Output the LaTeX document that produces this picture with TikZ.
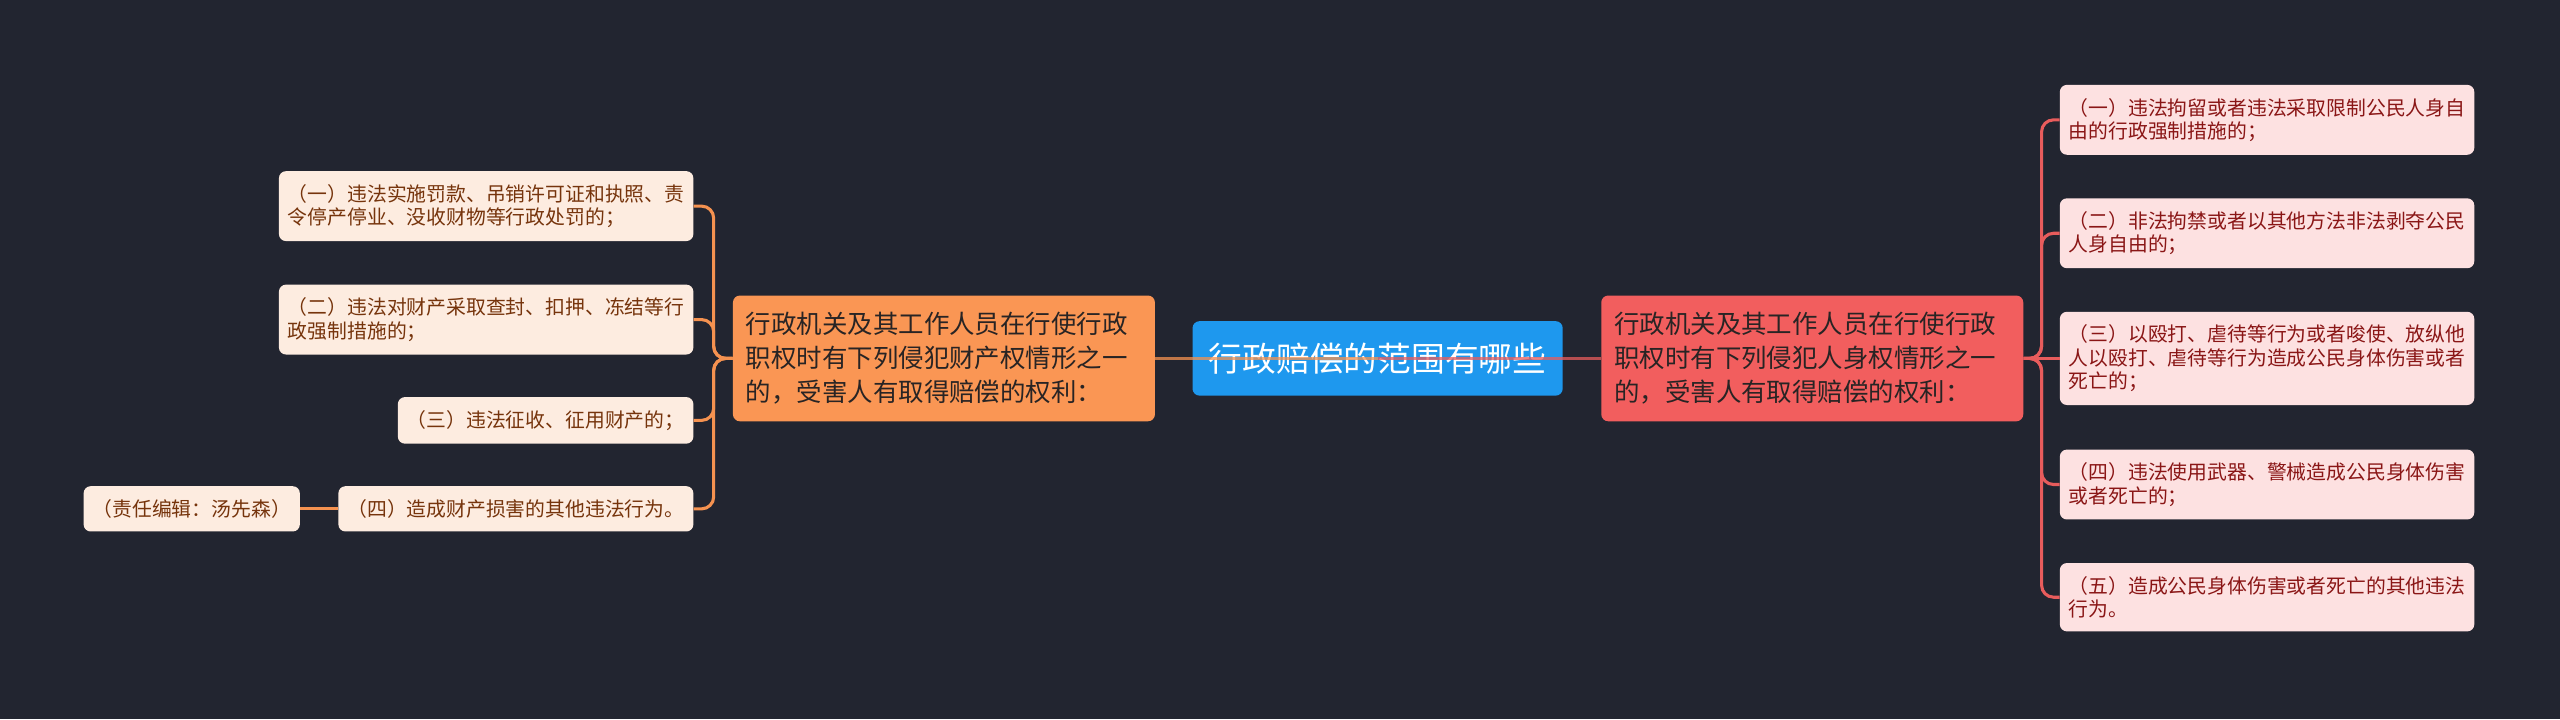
\documentclass[tikz,border=0pt]{standalone}
\usepackage{fontspec}
\newfontfamily\cjk{Noto Sans CJK SC}
\usetikzlibrary{positioning}
\definecolor{bgclr}{RGB}{34,37,48}
\definecolor{ctrfill}{RGB}{30,152,238}
\definecolor{orgfill}{RGB}{250,150,84}
\definecolor{redfill}{RGB}{242,94,94}
\definecolor{orglt}{RGB}{253,236,224}
\definecolor{redlt}{RGB}{253,225,225}
\definecolor{orgtext}{RGB}{118,52,12}
\definecolor{redtext}{RGB}{138,22,22}
\definecolor{maintext}{RGB}{40,36,36}
\definecolor{orgline}{RGB}{245,146,80}
\definecolor{redline}{RGB}{232,92,92}
\tikzset{
  %% central topic
  ctrblk/.style={rectangle,rounded corners=5pt,fill=ctrfill,
    font=\cjk\fontsize{24pt}{28pt}\selectfont,text=white,
    inner xsep=0.41cm,inner ysep=0.54cm},
  %% orange main branch (property)
  omblk/.style={rectangle,rounded corners=5pt,fill=orgfill,
    font=\cjk\fontsize{18.1pt}{24.2pt}\selectfont,align=left,text=maintext,
    text width=9.9cm,inner xsep=0.325cm,inner ysep=0.42cm},
  %% red main branch (person)
  rmblk/.style={omblk,fill=redfill},
  %% orange leaf
  olf/.style={rectangle,rounded corners=5pt,fill=orglt,
    font=\cjk\fontsize{14.1pt}{16.6pt}\selectfont,align=left,text=orgtext,
    inner xsep=0.225cm,inner ysep=0.33cm},
  %% red leaf
  rlf/.style={olf,fill=redlt,text=redtext},
  %% links
  olink/.style={line width=2.2pt,color=orgline,rounded corners=0.3cm},
  rlink/.style={line width=2.2pt,color=redline,rounded corners=0.3cm},
}

\begin{document}
\begin{tikzpicture}

  \fill[bgclr] (0,0) rectangle (64,-17.975);

  %% central topic
  \node[ctrblk] (ctr) at (34.44,-8.96) {行政赔偿的范围有哪些};

  %% main branches
  \node[omblk,left=0.925cm of ctr]  (prop) {行政机关及其工作人员在行使行政\\职权时有下列侵犯财产权情形之一\\的，受害人有取得赔偿的权利：};
  \node[rmblk,right=0.95cm of ctr]  (pers) {行政机关及其工作人员在行使行政\\职权时有下列侵犯人身权情形之一\\的，受害人有取得赔偿的权利：};

  %% property leaves — right edges aligned
  \node[olf,above left=0.09cm and 0.975cm of prop.west] (p2) {（二）违法对财产采取查封、扣押、冻结等行\\政强制措施的；};
  \node[olf,above=1.075cm of p2.north east,anchor=south east] (p1) {（一）违法实施罚款、吊销许可证和执照、责\\令停产停业、没收财物等行政处罚的；};
  \node[olf,below=1.05cm of p2.south east,anchor=north east] (p3) {（三）违法征收、征用财产的；};
  \node[olf,below=1.05cm of p3.south east,anchor=north east] (p4) {（四）造成财产损害的其他违法行为。};
  \node[olf,left=0.95cm of p4] (ed) {（责任编辑：汤先森）};

  %% person leaves
  \node[rlf,right=0.9cm of pers] (q3) {（三）以殴打、虐待等行为或者唆使、放纵他\\人以殴打、虐待等行为造成公民身体伤害或者\\死亡的；};
  \node[rlf,above=1.075cm of q3] (q2) {（二）非法拘禁或者以其他方法非法剥夺公民\\人身自由的；};
  \node[rlf,above=1.075cm of q2] (q1) {（一）违法拘留或者违法采取限制公民人身自\\由的行政强制措施的；};
  \node[rlf,below=1.1cm of q3]   (q4) {（四）违法使用武器、警械造成公民身体伤害\\或者死亡的；};
  \node[rlf,below=1.075cm of q4] (q5) {（五）造成公民身体伤害或者死亡的其他违法\\行为。};

  %% ── links ───────────────────────────────────────────────────────────────
  \coordinate[left=0.475cm of prop.west] (pj);
  \coordinate[right=0.45cm of pers.east] (qj);

  %% property side
  \draw[olink] (prop.west) -- (pj) |- (p1.east);
  \draw[olink] (prop.west) -- (pj) |- (p2.east);
  \draw[olink] (prop.west) -- (pj) |- (p3.east);
  \draw[olink] (prop.west) -- (pj) |- (p4.east);
  \draw[olink] (p4.west) -- (ed.east);

  %% person side
  \draw[rlink] (pers.east) -- (qj) |- (q1.west);
  \draw[rlink] (pers.east) -- (qj) |- (q2.west);
  \draw[rlink] (pers.east) -- (q3.west);
  \draw[rlink] (pers.east) -- (qj) |- (q4.west);
  \draw[rlink] (pers.east) -- (qj) |- (q5.west);

  %% topic to branches (drawn over the topic box)
  \draw[olink,line width=1.6pt,opacity=.75] (ctr.center) -- (prop.east);
  \draw[rlink,line width=1.6pt,opacity=.75] (ctr.center) -- (pers.west);

\end{tikzpicture}
\end{document}
